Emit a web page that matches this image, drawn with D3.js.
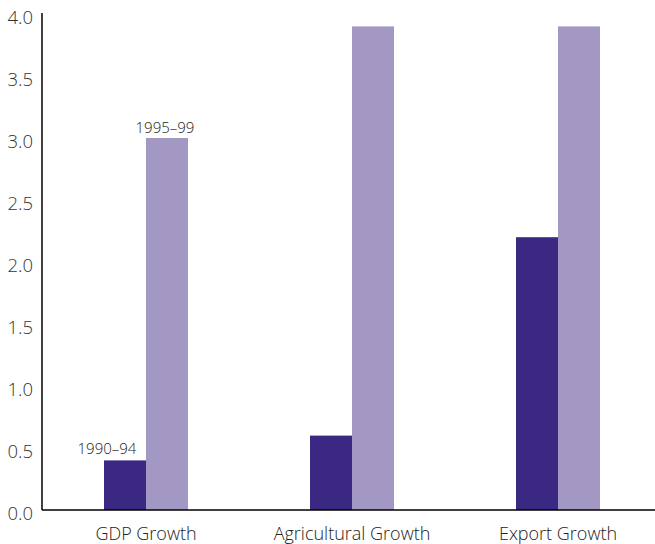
<!DOCTYPE html>
<html><head><meta charset="utf-8">
<script src="https://cdn.jsdelivr.net/npm/d3@7/dist/d3.min.js"></script>
<style>body{margin:0;background:#fff}svg{display:block}</style>
</head><body>
<script>
const categories = ["GDP Growth", "Agricultural Growth", "Export Growth"];
const seriesNames = ["1990–94", "1995–99"];
const values1990 = [0.4, 0.6, 2.2];
const values1995 = [3.0, 3.9, 3.9];
const yTicks = [0, 0.5, 1.0, 1.5, 2.0, 2.5, 3.0, 3.5, 4.0];
const colors = ["#3b2883", "#a397c4"];

const W = 655, H = 544;
const svg = d3.select("body").append("svg").attr("width", W).attr("height", H);
const font = "'Open Sans', 'Noto Sans', sans-serif";

const y = d3.scaleLinear().domain([0, 4]).range([510, 14]);
const x = d3.scaleBand().domain(categories).range([43, 661]).padding(0);
const groupW = 84;
const xs = d3.scaleBand().domain(seriesNames).range([0, groupW]).padding(0);

const series = [values1990, values1995];
categories.forEach((c, i) => {
  const gx = x(c) + x.bandwidth() / 2 - groupW / 2;
  seriesNames.forEach((s, j) => {
    svg.append("rect")
      .attr("x", gx + xs(s))
      .attr("y", y(series[j][i]))
      .attr("width", xs.bandwidth())
      .attr("height", y(0) - y(series[j][i]))
      .attr("fill", colors[j]);
  });
});

// y axis
const yAxis = svg.append("g").attr("transform", "translate(42,0)")
  .call(d3.axisLeft(y).tickValues(yTicks).tickFormat(d3.format(".1f")).tickSize(0).tickPadding(9));
yAxis.select(".domain").attr("stroke", "#000").attr("stroke-width", 1.5).attr("d", "M0,13V510");
yAxis.selectAll("text").attr("font-family", font).attr("font-size", 18.5).attr("fill", "#333")
  .attr("dy", "0.5em").attr("font-weight", 300);

// x axis
const xAxis = svg.append("g").attr("transform", "translate(0,510)")
  .call(d3.axisBottom(x).tickSize(0).tickPadding(17));
xAxis.select(".domain").attr("stroke", "#000").attr("stroke-width", 1.5).attr("d", "M42,0H655");
xAxis.selectAll("text").attr("font-family", font).attr("font-size", 18).attr("fill", "#222")
  .attr("font-weight", 300);

// series annotations on first group
const g0 = x(categories[0]) + x.bandwidth() / 2 - groupW / 2;
svg.append("text").attr("x", g0 + xs(seriesNames[0]) + 3).attr("y", y(values1990[0]) - 6)
  .attr("text-anchor", "middle").attr("font-family", font).attr("font-size", 15).attr("fill", "#222")
  .attr("font-weight", 300).text(seriesNames[0]);
svg.append("text").attr("x", g0 + xs(seriesNames[1]) + xs.bandwidth() / 2 - 2).attr("y", y(values1995[0]) - 5)
  .attr("text-anchor", "middle").attr("font-family", font).attr("font-size", 15).attr("fill", "#222")
  .attr("font-weight", 300).text(seriesNames[1]);
</script>
</body></html>
